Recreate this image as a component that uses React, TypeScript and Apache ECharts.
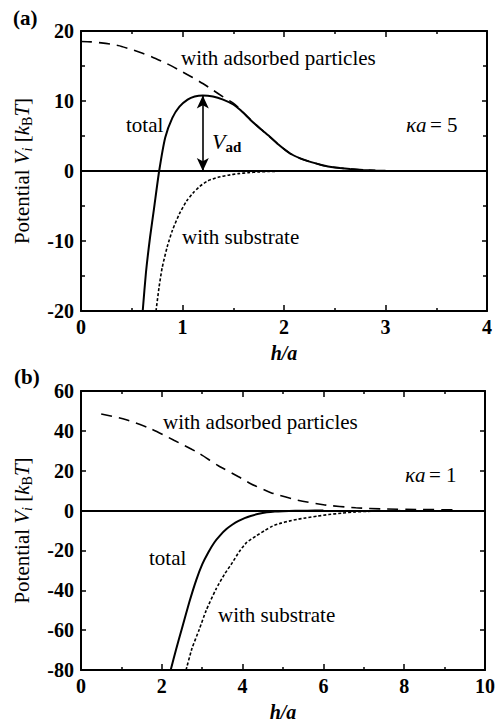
import React, { useEffect, useRef } from "react";
import * as echarts from "echarts";

// Panel (a): κa = 5
const hTotalA = [0.608, 0.64, 0.68, 0.72, 0.77, 0.83, 0.9, 0.97, 1.05, 1.12, 1.2, 1.3, 1.4, 1.5, 1.57, 1.67, 1.77, 1.86, 1.96, 2.06, 2.16, 2.26, 2.36, 2.45, 2.55, 2.65, 2.78, 2.9, 3.0];
const vTotalA = [-20, -14.5, -9.5, -5.3, 0, 4.8, 7.6, 9.2, 10.2, 10.65, 10.8, 10.65, 10.2, 9.5, 8.7, 7.3, 6.0, 4.9, 3.6, 2.5, 1.8, 1.3, 0.9, 0.6, 0.42, 0.28, 0.14, 0.06, 0.02];

const hAdsA = [0, 0.1, 0.2, 0.3, 0.4, 0.5, 0.6, 0.7, 0.8, 0.9, 1.0, 1.1, 1.2, 1.3, 1.4, 1.5, 1.57, 1.67, 1.77, 1.86, 1.96, 2.06, 2.16, 2.26, 2.36, 2.45, 2.55, 2.65, 2.78, 2.9, 3.0];
const vAdsA = [18.5, 18.45, 18.3, 18.1, 17.8, 17.35, 16.85, 16.3, 15.65, 14.95, 14.15, 13.35, 12.5, 11.55, 10.6, 9.7, 8.8, 7.35, 6.0, 4.9, 3.6, 2.5, 1.8, 1.3, 0.9, 0.6, 0.42, 0.28, 0.14, 0.06, 0.02];

const hSubA = [0.739, 0.77, 0.8, 0.85, 0.9, 0.97, 1.04, 1.1, 1.17, 1.25, 1.35, 1.45, 1.55, 1.65, 1.75, 1.85, 2.0];
const vSubA = [-20, -16.5, -13.8, -10.8, -8.5, -6.1, -4.3, -3.2, -2.2, -1.4, -0.9, -0.6, -0.38, -0.24, -0.14, -0.07, -0.02];

// Barrier height marked in panel (a)
const hPeakA = 1.2;
const vAdA = 10.8;

// Panel (b): κa = 1
const hTotalB = [2.22, 2.35, 2.5, 2.68, 2.85, 3.0, 3.15, 3.3, 3.45, 3.6, 3.75, 3.9, 4.05, 4.2, 4.4, 4.6, 4.8, 5.0, 5.3, 5.6, 6.0];
const vTotalB = [-80, -70, -59, -46, -35, -27, -21, -16, -12.3, -9.3, -7, -5.2, -3.8, -2.7, -1.6, -0.9, -0.5, -0.3, -0.12, -0.05, 0];

const hAdsB = [0.5, 1.1, 1.7, 2.3, 2.9, 3.4, 3.9, 4.2, 4.7, 5.3, 6.0, 6.8, 7.5, 8.3, 9.2];
const vAdsB = [48.5, 45.7, 41.3, 35.3, 29, 22.5, 17, 13.5, 9, 5.5, 2.9, 1.4, 0.8, 0.55, 0.4];

const hSubB = [2.6, 2.75, 2.93, 3.1, 3.34, 3.55, 3.75, 3.92, 4.1, 4.33, 4.55, 4.74, 4.95, 5.15, 5.35, 5.56, 5.85, 6.13, 6.45, 6.79, 7.1, 7.5, 7.9];
const vSubB = [-80, -69, -59.5, -50, -39.5, -32, -26, -20.5, -16, -12.8, -10, -7.8, -6.3, -5.3, -4.4, -3.7, -2.8, -2, -1.3, -0.7, -0.4, -0.15, -0.05];

// Axis ranges
const xRangeA = { min: 0, max: 4, interval: 1 };
const yRangeA = { min: -20, max: 20, interval: 10 };
const xRangeB = { min: 0, max: 10, interval: 2 };
const yRangeB = { min: -80, max: 60, interval: 20 };

const SERIF = "Liberation Serif";
const BLACK = "#000";
const TXT = 21;

const zip = (xs: number[], ys: number[]) => xs.map((x, i) => [x, ys[i]]);

function xAxisDef(grid: number, range: any, top: boolean) {
  return {
    type: "value",
    gridIndex: grid,
    position: top ? "top" : "bottom",
    ...range,
    name: top ? "" : "h/a",
    nameLocation: "middle",
    nameGap: 32,
    nameTextStyle: {
      fontFamily: SERIF,
      fontSize: 20,
      fontStyle: "italic",
      fontWeight: "bold",
      color: BLACK,
    },
    axisLine: { show: true, onZero: false, lineStyle: { color: BLACK, width: 2 } },
    axisTick: { show: true, inside: true, length: 6, lineStyle: { color: BLACK, width: 1.5 } },
    minorTick: { show: true, splitNumber: 2, length: 3, lineStyle: { color: BLACK, width: 1.5 } },
    axisLabel: {
      show: !top,
      margin: 6,
      fontFamily: SERIF,
      fontWeight: "bold",
      fontSize: 20,
      color: BLACK,
    },
    splitLine: { show: false },
    minorSplitLine: { show: false },
  };
}

function yAxisDef(grid: number, range: any, right: boolean, minor: boolean) {
  return {
    type: "value",
    gridIndex: grid,
    position: right ? "right" : "left",
    ...range,
    name: right ? "" : "{n|Potential }{i|V}{s|i}{n| [}{i|k}{b|B}{i|T}{n|]}",
    nameLocation: "middle",
    nameGap: 47,
    nameTextStyle: {
      fontFamily: SERIF,
      fontSize: 21,
      color: BLACK,
      rich: {
        n: { fontFamily: SERIF, fontSize: 21, color: BLACK, lineHeight: 25, verticalAlign: "middle" },
        i: { fontFamily: SERIF, fontSize: 21, fontStyle: "italic", color: BLACK, lineHeight: 25, verticalAlign: "middle" },
        s: { fontFamily: SERIF, fontSize: 14, fontStyle: "italic", color: BLACK, lineHeight: 25, verticalAlign: "bottom" },
        b: { fontFamily: SERIF, fontSize: 14, color: BLACK, lineHeight: 25, verticalAlign: "bottom" },
      },
    },
    axisLine: { show: true, onZero: false, lineStyle: { color: BLACK, width: 2 } },
    axisTick: { show: true, inside: true, length: 5, lineStyle: { color: BLACK, width: 1.5 } },
    minorTick: { show: minor, splitNumber: 2, length: 4, lineStyle: { color: BLACK, width: 1.5 } },
    axisLabel: {
      show: !right,
      margin: 7,
      fontFamily: SERIF,
      fontWeight: "bold",
      fontSize: 20,
      color: BLACK,
    },
    splitLine: { show: false },
    minorSplitLine: { show: false },
  };
}

function curve(data: number[][], xi: number, yi: number, kind: "solid" | "dashed" | "dotted", extra: any = {}) {
  const lineStyle =
    kind === "solid"
      ? { color: BLACK, width: 2, type: "solid" }
      : kind === "dashed"
      ? { color: BLACK, width: 1.6, type: [11, 7] }
      : { color: BLACK, width: 1.6, type: [3, 2] };
  return {
    type: "line",
    xAxisIndex: xi,
    yAxisIndex: yi,
    data,
    smooth: 0.2,
    symbol: "none",
    showSymbol: false,
    clip: true,
    lineStyle,
    silent: true,
    ...extra,
  };
}

const zeroLine = {
  silent: true,
  symbol: "none",
  label: { show: false },
  lineStyle: { color: BLACK, width: 2, type: "solid" },
  data: [{ yAxis: 0 }],
};

function textEl(x: number, y: number, text: string, extra: any = {}) {
  return {
    type: "text",
    x,
    y,
    silent: true,
    style: {
      text,
      fontFamily: SERIF,
      fontSize: TXT,
      fill: BLACK,
      align: "left",
      verticalAlign: "middle",
      ...extra,
    },
  };
}

const kaRich = {
  i: { fontFamily: SERIF, fontSize: TXT, fontStyle: "italic", fill: BLACK },
  n: { fontFamily: SERIF, fontSize: TXT, fill: BLACK },
};

export default function App() {
  const ref = useRef<HTMLDivElement>(null);

  useEffect(() => {
    if (!ref.current) return;
    const chart = echarts.init(ref.current, undefined, { renderer: "svg" });
    chart.setOption({
      animation: false,
      backgroundColor: "#fff",
      grid: [
        { left: 81, top: 31, width: 406, height: 280, containLabel: false },
        { left: 81, top: 391, width: 406, height: 280, containLabel: false },
      ],
      xAxis: [
        xAxisDef(0, xRangeA, false),
        xAxisDef(0, xRangeA, true),
        xAxisDef(1, xRangeB, false),
        xAxisDef(1, xRangeB, true),
      ],
      yAxis: [
        yAxisDef(0, yRangeA, false, true),
        yAxisDef(0, yRangeA, true, true),
        yAxisDef(1, yRangeB, false, false),
        yAxisDef(1, yRangeB, true, false),
      ],
      series: [
        curve(zip(hAdsA, vAdsA), 0, 0, "dashed"),
        curve(zip(hSubA, vSubA), 0, 0, "dotted"),
        curve(zip(hTotalA, vTotalA), 0, 0, "solid", {
          markLine: zeroLine,
        }),
        {
          type: "line",
          xAxisIndex: 0,
          yAxisIndex: 0,
          data: [],
          silent: true,
          markLine: {
            silent: true,
            symbol: ["arrow", "arrow"],
            symbolSize: [9, 13],
            label: { show: false },
            lineStyle: { color: BLACK, width: 1.6, type: "solid" },
            data: [[{ coord: [hPeakA, vAdA] }, { coord: [hPeakA, 0] }]],
          },
        },
        curve(zip(hAdsB, vAdsB), 2, 2, "dashed"),
        curve(zip(hSubB, vSubB), 2, 2, "dotted"),
        curve(zip(hTotalB, vTotalB), 2, 2, "solid", {
          markLine: zeroLine,
        }),
      ],
      graphic: [
        textEl(13, 18, "(a)", { fontWeight: "bold" }),
        textEl(181, 58, "with adsorbed particles"),
        textEl(126, 125, "total"),
        {
          type: "text",
          x: 212,
          y: 141,
          silent: true,
          style: {
            text: "{v|V}{s|ad}",
            align: "left",
            verticalAlign: "middle",
            rich: {
              v: { fontFamily: SERIF, fontSize: 22, fontStyle: "italic", fill: BLACK, lineHeight: 26, verticalAlign: "middle" },
              s: { fontFamily: SERIF, fontSize: 15, fontWeight: "bold", fill: BLACK, lineHeight: 26, verticalAlign: "bottom" },
            },
          },
        },
        {
          type: "text",
          x: 406,
          y: 125,
          silent: true,
          style: { text: "{i|κa} {n|= 5}", align: "left", verticalAlign: "middle", rich: kaRich },
        },
        textEl(182, 237, "with substrate"),
        textEl(14, 377, "(b)", { fontWeight: "bold" }),
        textEl(163, 422, "with adsorbed particles"),
        {
          type: "text",
          x: 405,
          y: 475,
          silent: true,
          style: { text: "{i|κa} {n|= 1}", align: "left", verticalAlign: "middle", rich: kaRich },
        },
        textEl(149, 558, "total"),
        textEl(218, 615, "with substrate"),
      ],
    });
    return () => chart.dispose();
  }, []);

  return (
    <div
      ref={ref}
      style={{ position: "fixed", left: 0, top: 0, width: 498, height: 723, background: "#fff" }}
    />
  );
}
